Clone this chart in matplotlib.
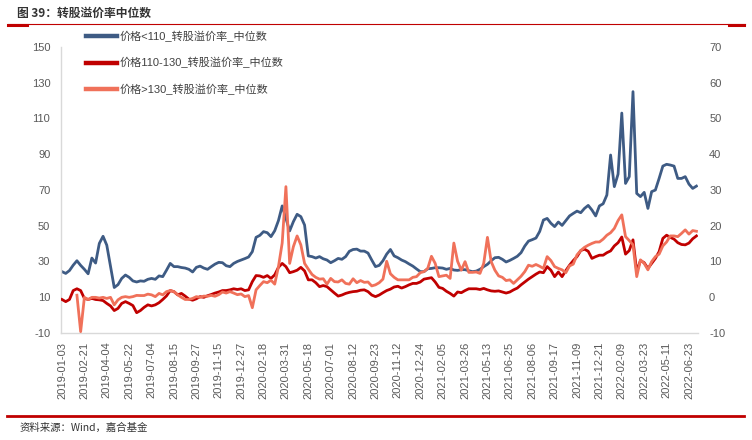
import numpy as np
import matplotlib
matplotlib.use('Agg')
import matplotlib.pyplot as plt
from matplotlib.lines import Line2D

plt.rcParams['font.family'] = ['Liberation Sans', 'Noto Sans CJK SC']
plt.rcParams['axes.unicode_minus'] = False

# one value every 5 trading days, starting 2019-01-03
step = 5
tick_every = 30
tick_labels = ['2019-01-03', '2019-02-21', '2019-04-04', '2019-05-22', '2019-07-04',
               '2019-08-15', '2019-09-27', '2019-11-15', '2019-12-27', '2020-02-18',
               '2020-03-31', '2020-05-18', '2020-07-01', '2020-08-12', '2020-09-23',
               '2020-11-12', '2020-12-24', '2021-02-05', '2021-03-26', '2021-05-13',
               '2021-06-25', '2021-08-06', '2021-09-17', '2021-11-09', '2021-12-21',
               '2022-02-09', '2022-03-23', '2022-05-11', '2022-06-23']

names = ['价格<110_转股溢价率_中位数', '价格110-130_转股溢价率_中位数', '价格>130_转股溢价率_中位数']

# price < 110, left axis
low = [24.2, 23.2, 24.8, 27.8, 30.3, 27.7, 25.5, 23.0, 31.8, 29.0,
       40.0, 44.0, 39.0, 27.0, 15.3, 16.9, 20.4, 22.3, 21.0, 19.0,
       18.4, 19.0, 18.8, 19.9, 20.4, 19.9, 21.8, 21.4, 25.0, 28.8,
       27.0, 27.0, 26.5, 26.2, 25.5, 24.0, 26.6, 27.3, 26.2, 25.5,
       27.0, 28.4, 29.4, 29.2, 27.5, 27.0, 28.8, 29.9, 30.7, 31.5,
       32.4, 35.4, 43.4, 44.5, 46.6, 46.0, 43.8, 47.1, 52.8, 61.0,
       54.0, 47.0, 52.2, 56.3, 55.0, 50.3, 33.0, 32.6, 31.8, 32.6,
       31.4, 30.7, 29.2, 30.3, 31.6, 31.1, 32.6, 35.6, 36.6, 36.8,
       35.7, 35.7, 34.6, 30.7, 27.0, 27.7, 30.3, 34.0, 36.6, 33.0,
       32.0, 30.7, 29.8, 28.5, 27.3, 25.7, 24.2, 24.2, 25.8, 26.0,
       26.4, 26.4, 26.2, 25.5, 26.0, 25.1, 24.9, 25.3, 25.3, 24.7,
       24.2, 24.5, 25.5, 27.0, 28.3, 30.3, 32.0, 32.2, 31.1, 29.6,
       30.5, 31.6, 32.8, 34.8, 38.5, 41.3, 42.1, 43.0, 46.7, 53.1,
       54.0, 51.3, 49.4, 52.0, 50.1, 52.8, 55.4, 56.8, 58.1, 57.2,
       59.6, 61.3, 58.7, 55.4, 61.0, 62.2, 67.1, 89.5, 71.8, 78.8,
       113.0, 73.6, 77.4, 125.0, 68.0, 66.2, 68.6, 59.6, 69.0, 69.9,
       76.4, 83.3, 84.3, 83.9, 83.3, 76.4, 76.4, 77.4, 73.2, 70.8,
       72.1]

# price 110-130, right axis
mid = [-0.7, -1.3, -0.7, 1.8, 2.3, 1.8, -0.4, -0.7, -0.4, -0.7,
       -0.8, -1.0, -1.8, -2.5, -3.8, -3.2, -1.8, -1.3, -1.8, -2.4,
       -4.4, -3.8, -2.9, -2.2, -2.5, -2.2, -1.6, -0.7, 0.3, 1.8,
       1.5, 0.6, 1.0, 0.25, -0.6, -0.9, -0.5, 0.1, -0.1, 0.35,
       0.7, 1.1, 1.4, 1.8, 1.8, 2.0, 2.3, 2.1, 2.3, 1.8,
       2.0, 4.3, 6.0, 5.9, 5.5, 6.0, 5.2, 6.2, 8.3, 9.4,
       8.5, 6.8, 7.1, 7.5, 8.3, 7.3, 4.8, 4.8, 4.0, 2.9,
       3.2, 2.9, 2.0, 1.1, 0.25, 0.55, 1.0, 1.3, 1.5, 1.6,
       1.9, 2.0, 1.5, 0.55, 0.1, 0.55, 1.2, 1.8, 2.2, 2.8,
       3.0, 2.5, 2.9, 3.4, 3.8, 3.8, 4.2, 5.0, 5.2, 5.4,
       4.2, 2.7, 2.4, 1.6, 1.0, 0.25, 1.4, 1.2, 1.8, 2.3,
       2.3, 2.3, 2.1, 2.4, 2.0, 1.7, 1.6, 1.7, 1.4, 1.1,
       1.4, 2.0, 2.5, 3.4, 4.2, 5.0, 5.7, 6.4, 7.0, 6.8,
       8.5, 7.5, 5.7, 7.0, 5.7, 7.4, 8.9, 10.2, 11.3, 13.0,
       13.4, 12.8, 10.8, 11.3, 11.7, 11.7, 12.4, 12.9, 14.3, 15.2,
       16.8, 12.0, 13.0, 16.0, 7.1, 10.2, 9.6, 8.0, 9.4, 10.8,
       12.7, 16.4, 17.3, 16.7, 16.2, 15.2, 14.7, 14.6, 15.1, 16.3,
       17.1]

# price > 130, right axis
high = [None, None, None, None, 0.5, -9.7, -0.1, -0.7, -0.1, -0.1,
        -0.3, -0.1, -0.4, -0.1, -2.2, -0.8, -0.1, 0.1, -0.1, 0.1,
        0.45, 0.4, 0.4, 0.8, 0.6, 0.1, 1.0, 0.6, 1.5, 1.8,
        1.5, 0.6, -0.1, -0.7, -0.7, -0.4, 0.1, -0.1, 0.25, 0.2,
        0.45, 0.2, 0.65, 1.4, 1.1, 1.5, 1.1, 0.65, 0.85, 0.1,
        0.4, -3.0, 2.0, 3.2, 4.3, 4.0, 4.7, 3.6, 8.5, 15.1,
        30.9, 9.4, 14.1, 17.1, 14.6, 9.4, 7.8, 6.3, 5.5, 5.0,
        5.1, 3.6, 5.2, 4.3, 4.2, 4.8, 3.8, 3.6, 5.1, 4.0,
        4.6, 4.1, 4.2, 3.1, 3.4, 4.0, 5.0, 10.0, 6.5, 5.5,
        4.8, 4.8, 4.8, 4.8, 5.5, 5.7, 6.8, 7.1, 8.0, 11.4,
        9.4, 5.7, 5.9, 6.1, 5.2, 15.1, 10.0, 7.5, 9.9, 6.9,
        6.9, 7.0, 6.6, 9.4, 16.7, 9.9, 7.5, 5.9, 5.5, 4.6,
        4.8, 3.8, 4.8, 5.8, 7.1, 8.9, 8.6, 9.1, 8.6, 8.0,
        11.3, 10.2, 8.5, 8.0, 7.6, 6.8, 8.7, 9.2, 11.8, 13.0,
        13.9, 14.5, 15.0, 15.4, 15.4, 16.2, 17.3, 18.0, 19.2, 21.4,
        23.0, 16.9, 15.8, 14.6, 5.7, 10.4, 9.4, 7.6, 9.9, 11.3,
        12.0, 14.3, 15.4, 17.1, 17.1, 16.9, 17.8, 18.8, 17.6, 18.6,
        18.4]

colors = ['#3E5B84', '#C00000', '#F0715A']

days = np.arange(len(low)) * step
low = np.array(low, dtype=float)
mid = np.array(mid, dtype=float)
high = np.array(high, dtype=float)

W, H = 752, 440
fig = plt.figure(figsize=(W / 100, H / 100), dpi=100)
ax = fig.add_axes([60.7 / W, 1 - 332.7 / H, (698 - 60.7) / W, (332.7 - 47) / H])
ax2 = ax.twinx()

ax.plot(days, low, color=colors[0], lw=2.0)
ax2.plot(days, mid, color=colors[1], lw=2.0)
ax2.plot(days, high, color=colors[2], lw=2.0)

ax.set_xlim(-1.74, 852.1)
ax.set_ylim(-10, 150)
ax.set_yticks(np.arange(-10, 151, 20))
ax2.set_ylim(-10, 70)
ax2.set_yticks(np.arange(-10, 71, 10))

ax.set_xticks(np.arange(len(tick_labels)) * tick_every)
ax.set_xticklabels(tick_labels, rotation=90)

for s in ['top', 'right']:
    ax.spines[s].set_visible(False)
for s in ['left', 'bottom']:
    ax.spines[s].set_color('#D9D9D9')
    ax.spines[s].set_linewidth(1.0)
for s in ax2.spines.values():
    s.set_visible(False)

ax.tick_params(axis='y', length=0, pad=7.5, labelsize=8, labelcolor='#595959')
ax.tick_params(axis='x', length=0, pad=6.5, labelsize=8, labelcolor='#595959')
ax2.tick_params(axis='y', length=0, pad=8, labelsize=8, labelcolor='#595959')

handles = [Line2D([], [], color=c, lw=3.2) for c in colors]
leg = fig.legend(handles, names, loc='upper left', bbox_to_anchor=(86 / W, 1 - 31 / H),
                 frameon=False, fontsize=8, handlelength=2.8, handletextpad=0.25,
                 labelspacing=1.35, borderpad=0, borderaxespad=0)
for t in leg.get_texts():
    t.set_color('#404040')

# header and footer
fig.text(17 / W, 1 - 13.3 / H, '图 39：转股溢价率中位数', fontsize=8.5, fontweight='bold',
         va='center', color='#333333', family=['Noto Sans CJK SC', 'DejaVu Sans'])
fig.add_artist(Line2D([8 / W, 745 / W], [1 - 24.5 / H] * 2, color='#C00000', lw=0.8,
                      transform=fig.transFigure))
fig.add_artist(Line2D([8 / W, 27 / W], [1 - 24.8 / H] * 2, color='#C00000', lw=2.2,
                      transform=fig.transFigure))
fig.add_artist(Line2D([729 / W, 744 / W], [1 - 24.8 / H] * 2, color='#C00000', lw=2.2,
                      transform=fig.transFigure))
fig.add_artist(Line2D([7 / W, 744 / W], [1 - 415.7 / H] * 2, color='#C00000', lw=2.0,
                      transform=fig.transFigure))
fig.text(20 / W, 1 - 428 / H, '资料来源：Wind，嘉合基金', fontsize=7.5, va='center',
         color='#333333', family=['Noto Sans CJK SC', 'DejaVu Sans'])

fig.savefig('out.png', dpi=100)
